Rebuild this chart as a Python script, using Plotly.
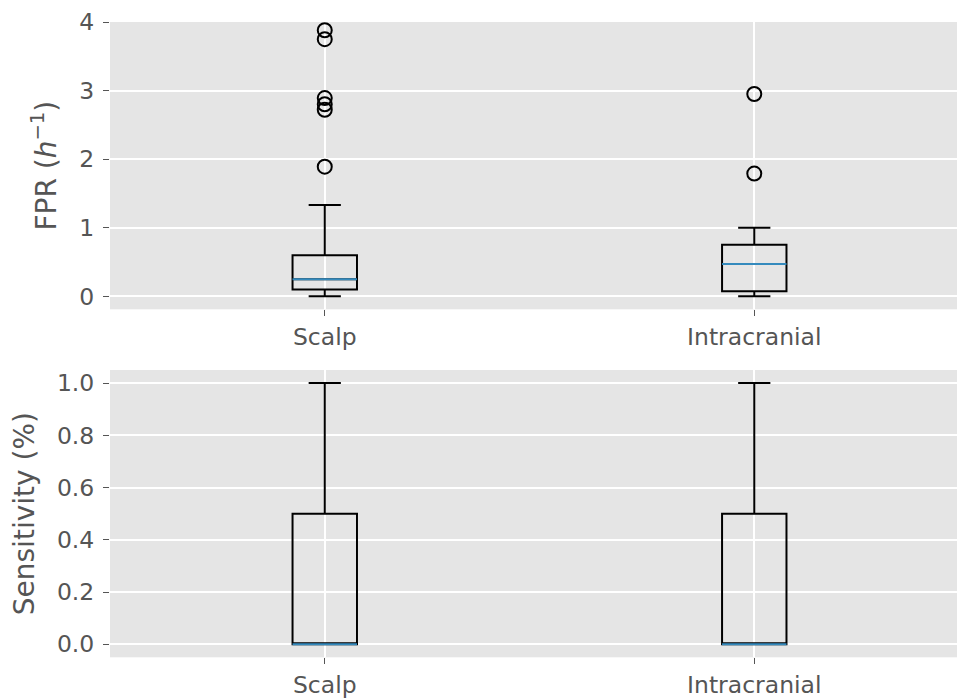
import plotly.graph_objects as go
from plotly.subplots import make_subplots

# ---- data ----
categories = ["Scalp", "Intracranial"]
positions = [1, 2]

# FPR (h^-1) box statistics
fpr_q1 = [0.10, 0.075]
fpr_median = [0.25, 0.47]
fpr_q3 = [0.60, 0.75]
fpr_lower = [0.0, 0.0]
fpr_upper = [1.33, 1.0]
fpr_outliers_scalp = [1.89, 2.72, 2.80, 2.89, 3.75, 3.88]
fpr_outliers_intra = [1.79, 2.95]

# Sensitivity box statistics
sens_q1 = [0.0, 0.0]
sens_median = [0.0, 0.0]
sens_q3 = [0.5, 0.5]
sens_lower = [0.0, 0.0]
sens_upper = [1.0, 1.0]

box_width = 0.15
MEDIAN_COLOR = "#348ABD"
TEXT_COLOR = "#555555"
FONT = "DejaVu Sans"

fig = make_subplots(rows=2, cols=1)


def add_panel(row, q1, med, q3, lo, hi, outl_by_pos):
    fig.add_trace(go.Box(
        x=positions, q1=q1, median=med, q3=q3,
        lowerfence=lo, upperfence=hi,
        width=box_width, whiskerwidth=0.5,
        line=dict(color="black", width=2),
        fillcolor="rgba(0,0,0,0)",
        boxpoints=False, showlegend=False, hoverinfo="skip",
    ), row=row, col=1)
    mx, my = [], []
    for p, m in zip(positions, med):
        mx += [p - box_width / 2, p + box_width / 2, None]
        my += [m, m, None]
    fig.add_trace(go.Scatter(
        x=mx, y=my, mode="lines",
        line=dict(color=MEDIAN_COLOR, width=2),
        showlegend=False, hoverinfo="skip",
    ), row=row, col=1)
    if outl_by_pos:
        ox, oy = [], []
        for p, vals in zip(positions, outl_by_pos):
            ox += [p] * len(vals)
            oy += vals
        fig.add_trace(go.Scatter(
            x=ox, y=oy, mode="markers",
            marker=dict(symbol="circle-open", size=14, color="black",
                        line=dict(width=2, color="black")),
            showlegend=False, hoverinfo="skip",
        ), row=row, col=1)


add_panel(1, fpr_q1, fpr_median, fpr_q3, fpr_lower, fpr_upper,
          [fpr_outliers_scalp, fpr_outliers_intra])
add_panel(2, sens_q1, sens_median, sens_q3, sens_lower, sens_upper, None)

H = 700.0
TICK_SIZE = 23.5
TITLE_SIZE = 28
xcommon = dict(
    range=[0.5, 2.472], tickvals=positions, ticktext=categories,
    showgrid=True, gridcolor="white", gridwidth=1.5, zeroline=False,
    showline=False, ticks="outside", ticklen=6, tickwidth=1,
    tickcolor=TEXT_COLOR, tickfont=dict(size=TICK_SIZE, color=TEXT_COLOR, family=FONT),
    automargin=False, domain=[0, 1],
)
ycommon = dict(
    showgrid=True, gridcolor="white", gridwidth=1.5, zeroline=False,
    showline=False, ticks="outside", ticklen=6, tickwidth=1,
    tickcolor=TEXT_COLOR, tickfont=dict(size=TICK_SIZE, color=TEXT_COLOR, family=FONT),
    automargin=False, ticklabelstandoff=4,
)

fig.update_layout(
    width=957, height=700,
    margin=dict(l=110, r=0, t=0, b=0),
    paper_bgcolor="white", plot_bgcolor="#E5E5E5",
    font=dict(family=FONT, color=TEXT_COLOR),
    xaxis=dict(**xcommon),
    xaxis2=dict(**xcommon),
    yaxis=dict(**ycommon, range=[-0.19, 4.0], tickvals=[0, 1, 2, 3, 4],
               domain=[(H - 309.3) / H, (H - 22) / H],
               title=dict(text="FPR (<i>h</i><sup>−1</sup>)",
                          font=dict(size=TITLE_SIZE, color=TEXT_COLOR, family=FONT),
                          standoff=14)),
    yaxis2=dict(**ycommon, range=[-0.05, 1.05],
                tickvals=[0, 0.2, 0.4, 0.6, 0.8, 1.0], tickformat=".1f",
                domain=[(H - 657.3) / H, (H - 370) / H],
                title=dict(text="Sensitivity (%)",
                           font=dict(size=TITLE_SIZE, color=TEXT_COLOR, family=FONT),
                           standoff=14)),
)

fig.write_html("out.html")
